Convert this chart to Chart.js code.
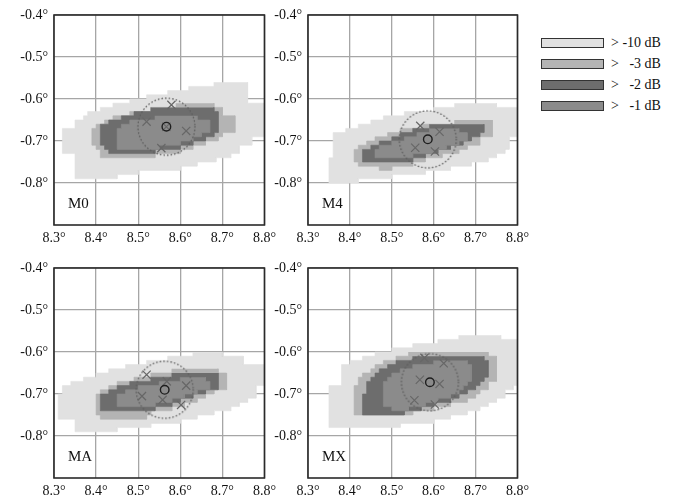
<!DOCTYPE html>
<html><head><meta charset="utf-8">
<script src="https://cdn.jsdelivr.net/npm/chart.js@4.4.0/dist/chart.umd.min.js"></script>
<style>
body{margin:0;background:#fff;width:682px;height:502px;overflow:hidden;position:relative;font-family:'Liberation Serif','Times New Roman',serif;}
canvas{position:absolute;}
.lg{position:absolute;left:541px;width:61px;height:8px;border:1px solid #333;}
.lt{position:absolute;left:611px;font-size:14px;line-height:14px;color:#111;white-space:pre;}
</style></head><body>
<script>
// ---------- data ----------
const X_TICKS = [8.3, 8.4, 8.5, 8.6, 8.7, 8.8];
const Y_TICKS = [-0.4, -0.5, -0.6, -0.7, -0.8];
const LEVEL_LABELS = ['> -10 dB', '>   -3 dB', '>   -2 dB', '>   -1 dB'];
const PANEL_NAMES = ['M0', 'M4', 'MA', 'MX'];

// contour regions: rows [yTop, xLeft, xRight], each row 0.01 tall
const M0_10 = [[-0.56,8.68,8.76],[-0.57,8.62,8.76],[-0.58,8.57,8.76],[-0.59,8.52,8.76],[-0.60,8.48,8.76],[-0.61,8.44,8.80],[-0.62,8.41,8.80],[-0.63,8.38,8.80],[-0.64,8.37,8.80],[-0.65,8.35,8.80],[-0.66,8.35,8.80],[-0.67,8.32,8.80],[-0.68,8.32,8.80],[-0.69,8.32,8.77],[-0.70,8.32,8.77],[-0.71,8.32,8.74],[-0.72,8.32,8.74],[-0.73,8.35,8.72],[-0.74,8.35,8.685],[-0.75,8.35,8.64],[-0.76,8.35,8.60],[-0.77,8.35,8.50],[-0.78,8.35,8.45]];
const M0_3 = [[-0.61,8.59,8.68],[-0.62,8.53,8.70],[-0.63,8.48,8.70],[-0.64,8.44,8.73],[-0.65,8.42,8.73],[-0.66,8.40,8.73],[-0.67,8.39,8.73],[-0.68,8.39,8.70],[-0.69,8.39,8.69],[-0.70,8.39,8.66],[-0.71,8.40,8.63],[-0.72,8.41,8.60],[-0.73,8.41,8.54]];
const M0_2 = [[-0.62,8.53,8.68],[-0.63,8.49,8.69],[-0.64,8.46,8.69],[-0.65,8.43,8.69],[-0.66,8.41,8.69],[-0.67,8.41,8.69],[-0.68,8.41,8.68],[-0.69,8.41,8.66],[-0.70,8.41,8.63],[-0.71,8.42,8.60],[-0.72,8.43,8.54]];
const M0_1 = [[-0.64,8.54,8.64],[-0.65,8.48,8.67],[-0.66,8.46,8.67],[-0.67,8.45,8.67],[-0.68,8.45,8.65],[-0.69,8.45,8.63],[-0.70,8.45,8.60],[-0.71,8.45,8.55]];

const M4_10 = [[-0.61,8.65,8.75],[-0.62,8.60,8.80],[-0.63,8.53,8.80],[-0.64,8.48,8.80],[-0.65,8.45,8.80],[-0.66,8.42,8.80],[-0.67,8.39,8.80],[-0.68,8.36,8.80],[-0.69,8.36,8.78],[-0.70,8.36,8.78],[-0.71,8.36,8.78],[-0.72,8.36,8.77],[-0.73,8.36,8.75],[-0.74,8.35,8.73],[-0.75,8.35,8.69],[-0.76,8.35,8.64],[-0.77,8.35,8.58],[-0.78,8.35,8.50],[-0.79,8.35,8.42]];
const M4_3 = [[-0.65,8.65,8.74],[-0.66,8.57,8.74],[-0.67,8.52,8.74],[-0.68,8.49,8.74],[-0.69,8.46,8.71],[-0.70,8.44,8.71],[-0.71,8.42,8.68],[-0.72,8.41,8.66],[-0.73,8.41,8.62],[-0.74,8.41,8.58],[-0.75,8.42,8.55],[-0.76,8.47,8.50]];
const M4_2 = [[-0.66,8.59,8.72],[-0.67,8.55,8.72],[-0.68,8.52,8.71],[-0.69,8.50,8.69],[-0.70,8.47,8.67],[-0.71,8.45,8.64],[-0.72,8.43,8.61],[-0.73,8.43,8.58],[-0.74,8.43,8.55]];
const M4_1 = [[-0.67,8.59,8.66],[-0.68,8.56,8.68],[-0.69,8.53,8.68],[-0.70,8.50,8.66],[-0.71,8.47,8.63],[-0.72,8.46,8.60],[-0.73,8.46,8.55]];

const MA_10 = [[-0.60,8.63,8.70],[-0.61,8.57,8.75],[-0.62,8.52,8.75],[-0.63,8.47,8.80],[-0.64,8.43,8.80],[-0.65,8.40,8.80],[-0.66,8.37,8.80],[-0.67,8.34,8.80],[-0.68,8.32,8.78],[-0.69,8.32,8.78],[-0.70,8.31,8.78],[-0.71,8.31,8.76],[-0.72,8.31,8.74],[-0.73,8.31,8.72],[-0.74,8.31,8.68],[-0.75,8.31,8.64],[-0.76,8.35,8.60],[-0.77,8.35,8.53],[-0.78,8.35,8.45]];
const MA_3 = [[-0.64,8.58,8.69],[-0.65,8.53,8.71],[-0.66,8.49,8.71],[-0.67,8.45,8.71],[-0.68,8.43,8.71],[-0.69,8.41,8.68],[-0.70,8.40,8.66],[-0.71,8.40,8.64],[-0.72,8.40,8.61],[-0.73,8.40,8.58],[-0.74,8.40,8.53],[-0.75,8.41,8.52]];
const MA_2 = [[-0.65,8.58,8.69],[-0.66,8.53,8.69],[-0.67,8.48,8.69],[-0.68,8.45,8.69],[-0.69,8.43,8.66],[-0.70,8.41,8.63],[-0.71,8.41,8.60],[-0.72,8.41,8.58],[-0.73,8.41,8.54]];
const MA_1 = [[-0.66,8.60,8.66],[-0.67,8.55,8.67],[-0.68,8.50,8.67],[-0.69,8.47,8.64],[-0.70,8.45,8.61],[-0.71,8.45,8.58],[-0.72,8.45,8.54]];

const MX_10 = [[-0.56,8.66,8.76],[-0.57,8.61,8.80],[-0.58,8.55,8.80],[-0.59,8.50,8.80],[-0.60,8.46,8.80],[-0.61,8.43,8.80],[-0.62,8.40,8.80],[-0.63,8.38,8.80],[-0.64,8.38,8.80],[-0.65,8.38,8.80],[-0.66,8.38,8.80],[-0.67,8.38,8.80],[-0.68,8.35,8.79],[-0.69,8.35,8.77],[-0.70,8.35,8.77],[-0.71,8.35,8.75],[-0.72,8.35,8.73],[-0.73,8.35,8.71],[-0.74,8.35,8.68],[-0.75,8.35,8.64],[-0.76,8.35,8.60],[-0.77,8.35,8.52]];
const MX_3 = [[-0.60,8.54,8.73],[-0.61,8.51,8.75],[-0.62,8.48,8.75],[-0.63,8.46,8.75],[-0.64,8.45,8.75],[-0.65,8.43,8.75],[-0.66,8.42,8.75],[-0.67,8.42,8.73],[-0.68,8.41,8.73],[-0.69,8.41,8.71],[-0.70,8.41,8.70],[-0.71,8.41,8.68],[-0.72,8.41,8.64],[-0.73,8.41,8.60],[-0.74,8.41,8.55]];
const MX_2 = [[-0.61,8.55,8.72],[-0.62,8.51,8.73],[-0.63,8.49,8.73],[-0.64,8.47,8.73],[-0.65,8.46,8.73],[-0.66,8.45,8.72],[-0.67,8.44,8.71],[-0.68,8.44,8.70],[-0.69,8.44,8.68],[-0.70,8.43,8.66],[-0.71,8.43,8.64],[-0.72,8.43,8.60],[-0.73,8.43,8.57],[-0.74,8.43,8.53]];
const MX_1 = [[-0.62,8.60,8.68],[-0.63,8.55,8.69],[-0.64,8.52,8.69],[-0.65,8.50,8.69],[-0.66,8.49,8.69],[-0.67,8.48,8.68],[-0.68,8.48,8.67],[-0.69,8.48,8.66],[-0.70,8.48,8.64],[-0.71,8.48,8.61],[-0.72,8.48,8.58],[-0.73,8.50,8.54]];

// markers: crosses [x,y], centre circle [x,y]
const M0_CROSS = [[8.579,-0.614],[8.520,-0.654],[8.614,-0.676],[8.555,-0.717],[8.567,-0.666]];
const M0_CENTER = [8.567, -0.666];
const M4_CROSS = [[8.568,-0.664],[8.614,-0.678],[8.556,-0.716],[8.603,-0.725]];
const M4_CENTER = [8.586, -0.696];
const MA_CROSS = [[8.520,-0.654],[8.568,-0.670],[8.614,-0.680],[8.509,-0.705],[8.558,-0.714],[8.602,-0.726]];
const MA_CENTER = [8.563, -0.690];
const MX_CROSS = [[8.578,-0.614],[8.624,-0.627],[8.567,-0.666],[8.614,-0.676],[8.554,-0.715],[8.603,-0.725]];
const MX_CENTER = [8.591, -0.672];

// ---------- styles / layout ----------
const ROW_H = 0.01;
const LEVEL_COLORS = ['#e1e1e1', '#b4b4b4', '#6d6d6d', '#8b8b8b'];
const PANEL_BOX = [
  {left: 54, top: 15, w: 212, h: 210},
  {left: 308, top: 15, w: 211, h: 210},
  {left: 54, top: 268, w: 212, h: 210},
  {left: 308, top: 268, w: 211, h: 210}
];
const PAD_L = 54, PAD_T = 15, PAD_R = 15, PAD_B = 25;
const FONT = "'Liberation Serif','Times New Roman',serif";

const PANEL_DATA = [
  {regions: [M0_10, M0_3, M0_2, M0_1], cross: M0_CROSS, center: M0_CENTER},
  {regions: [M4_10, M4_3, M4_2, M4_1], cross: M4_CROSS, center: M4_CENTER},
  {regions: [MA_10, MA_3, MA_2, MA_1], cross: MA_CROSS, center: MA_CENTER},
  {regions: [MX_10, MX_3, MX_2, MX_1], cross: MX_CROSS, center: MX_CENTER}
];

function staircase(rows) {
  const pts = [];
  rows.forEach(r => { pts.push({x: r[2], y: r[0]}); pts.push({x: r[2], y: r[0] - ROW_H}); });
  for (let i = rows.length - 1; i >= 0; i--) {
    const r = rows[i];
    pts.push({x: r[1], y: r[0] - ROW_H}); pts.push({x: r[1], y: r[0]});
  }
  return pts;
}

function ringImage(r) {
  const c = document.createElement('canvas');
  const s = 2 * r + 6;
  c.width = s; c.height = s;
  const g = c.getContext('2d');
  g.strokeStyle = '#5e5e5e';
  g.lineWidth = 1.4;
  g.lineCap = 'round';
  g.setLineDash([0.4, 3.2]);
  g.beginPath(); g.arc(s / 2, s / 2, r, 0, Math.PI * 2); g.stroke();
  return c;
}
const RING = ringImage(28.5);

const framePlugin = {
  id: 'frame',
  afterDraw(chart, args, opts) {
    const a = chart.chartArea, ctx = chart.ctx;
    ctx.save();
    ctx.strokeStyle = '#2a2a2a'; ctx.lineWidth = 1.6;
    ctx.strokeRect(a.left, a.top, a.right - a.left, a.bottom - a.top);
    ctx.fillStyle = '#111';
    ctx.font = '15px ' + FONT;
    ctx.textBaseline = 'alphabetic';
    ctx.fillText(opts.name, a.left + 14, a.bottom - 17);
    ctx.restore();
  }
};

PANEL_DATA.forEach((pd, i) => {
  const box = PANEL_BOX[i];
  const cv = document.createElement('canvas');
  const W = PAD_L + box.w + PAD_R, H = PAD_T + box.h + PAD_B;
  cv.width = W; cv.height = H;
  cv.style.width = W + 'px'; cv.style.height = H + 'px';
  cv.style.left = (box.left - PAD_L) + 'px'; cv.style.top = (box.top - PAD_T) + 'px';
  document.body.appendChild(cv);

  // first dataset is drawn on top in Chart.js: markers first, outer contour last
  const datasets = [];
  datasets.push({type: 'scatter', data: [{x: pd.center[0], y: pd.center[1]}], pointStyle: 'circle',
    pointRadius: 4.3, borderColor: '#1e1e1e', borderWidth: 1.4, backgroundColor: 'transparent'});
  datasets.push({type: 'scatter', data: pd.cross.map(p => ({x: p[0], y: p[1]})), pointStyle: 'crossRot',
    pointRadius: 5.8, borderColor: '#676767', borderWidth: 1.2, backgroundColor: 'transparent'});
  datasets.push({type: 'scatter', data: [{x: pd.center[0], y: pd.center[1]}], pointStyle: RING, pointRadius: 1});
  for (let k = pd.regions.length - 1; k >= 0; k--) {
    datasets.push({
      type: 'line', data: staircase(pd.regions[k]), showLine: true, fill: 'shape',
      backgroundColor: LEVEL_COLORS[k], borderColor: LEVEL_COLORS[k], borderWidth: 0.6,
      pointRadius: 0, tension: 0
    });
  }

  new Chart(cv, {
    type: 'line',
    data: {datasets},
    plugins: [framePlugin],
    options: {
      responsive: false, animation: false, devicePixelRatio: 1, events: [],
      layout: {autoPadding: false, padding: {top: PAD_T, right: PAD_R, left: 0, bottom: 0}},
      plugins: {legend: {display: false}, tooltip: {enabled: false}, frame: {name: PANEL_NAMES[i]}},
      scales: {
        x: {
          type: 'linear', min: 8.3, max: 8.8,
          afterBuildTicks: s => { s.ticks = X_TICKS.map(v => ({value: v})); },
          afterFit: s => { s.height = PAD_B; },
          ticks: {callback: v => v.toFixed(1) + '°', font: {family: FONT, size: 14}, color: '#111', padding: 5, maxRotation: 0, autoSkip: false},
          grid: {color: '#a6a6a6', lineWidth: 1.3, drawTicks: false},
          border: {display: false}
        },
        y: {
          type: 'linear', min: -0.9, max: -0.4,
          afterBuildTicks: s => { s.ticks = Y_TICKS.map(v => ({value: v})); },
          afterFit: s => { s.width = PAD_L; },
          ticks: {callback: v => v.toFixed(1) + '°', font: {family: FONT, size: 14}, color: '#111', padding: 6, autoSkip: false},
          grid: {color: '#a6a6a6', lineWidth: 1.3, drawTicks: false},
          border: {display: false}
        }
      }
    }
  });
});

// legend
const LEG_TOPS = [38, 59, 80, 101];
LEVEL_LABELS.forEach((t, k) => {
  const b = document.createElement('div');
  b.className = 'lg'; b.style.top = LEG_TOPS[k] + 'px'; b.style.background = LEVEL_COLORS[k];
  document.body.appendChild(b);
  const s = document.createElement('div');
  s.className = 'lt'; s.style.top = (LEG_TOPS[k] - 2) + 'px'; s.textContent = t;
  document.body.appendChild(s);
});
</script>
</body></html>
